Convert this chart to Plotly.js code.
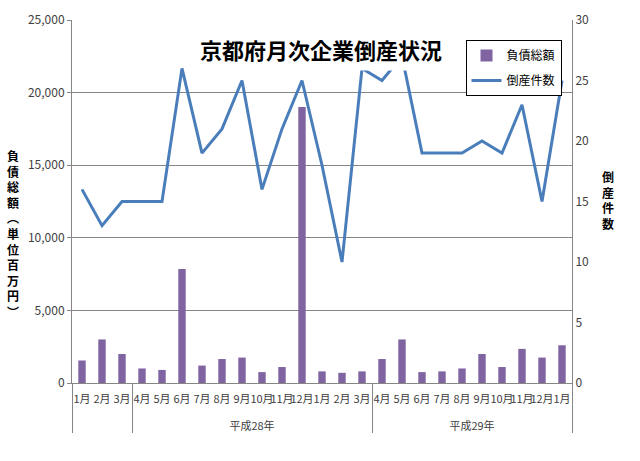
<!DOCTYPE html>
<html>
<head>
<meta charset="utf-8">
<script src="https://cdn.plot.ly/plotly-3.0.1.min.js"></script>
<style>
  html, body { margin: 0; padding: 0; background: #fff; }
  #chart { width: 640px; height: 461px; }
</style>
</head>
<body>
<div id="chart"></div>
<script>
const months = ["1月", "2月", "3月", "4月", "5月", "6月", "7月", "8月", "9月", "10月", "11月", "12月", "1月", "2月", "3月",
  "4月", "5月", "6月", "7月", "8月", "9月", "10月", "11月", "12月", "1月"];
const years = ["", "", "",
  "平成28年", "平成28年", "平成28年", "平成28年", "平成28年", "平成28年", "平成28年", "平成28年", "平成28年", "平成28年", "平成28年", "平成28年",
  "平成29年", "平成29年", "平成29年", "平成29年", "平成29年", "平成29年", "平成29年", "平成29年", "平成29年", "平成29年"];

// 負債総額 (百万円)
const debt = [1550, 3000, 2000, 1000, 900, 7850, 1200, 1650, 1750, 750, 1100, 19000, 800, 700, 800,
  1650, 3000, 750, 800, 1000, 2000, 1100, 2350, 1750, 2600];
// 倒産件数
const cases = [16, 13, 15, 15, 15, 26, 19, 21, 25, 16, 21, 25, 18, 10, 26,
  25, 27, 19, 19, 19, 20, 19, 23, 15, 25];

// multicategory orders inner labels by first appearance, so repeated
// month names get an invisible suffix to keep them in sequence
const seen = {};
const monthKeys = months.map((m) => {
  seen[m] = (seen[m] || 0) + 1;
  return m + "\u200b".repeat(seen[m] - 1);
});
// year labels sit one line lower, like the reference
const yearKeys = years.map((y) => (y ? "<br>" + y : y));

const font = "'Noto Sans CJK JP', 'Noto Sans', sans-serif";
const tickColor = "#404040";

const bars = {
  x: [yearKeys, monthKeys],
  y: debt,
  name: "負債総額",
  type: "bar",
  marker: { color: "#8064A2" },
  legendgroup: "a",
};

const line = {
  x: [yearKeys, monthKeys],
  y: cases,
  name: "倒産件数",
  type: "scatter",
  mode: "lines",
  yaxis: "y2",
  line: { color: "#4A7EBB", width: 3 },
  legendgroup: "b",
};

const vert = (s) => s.split("").join("<br>");

const layout = {
  width: 640,
  height: 461,
  margin: { l: 72, r: 68, t: 20, b: 78 },
  paper_bgcolor: "#fff",
  plot_bgcolor: "#fff",
  font: { family: font, size: 12, color: tickColor },
  bargap: 0.63,
  showlegend: true,
  legend: {
    x: 0.787,
    y: 0.945,
    xanchor: "left",
    yanchor: "top",
    bordercolor: "#000",
    borderwidth: 1,
    bgcolor: "#fff",
    font: { size: 12, color: "#000" },
    traceorder: "grouped",
    tracegroupgap: 6,
  },
  xaxis: {
    type: "multicategory",
    tickangle: 0,
    showline: true,
    linecolor: "#868686",
    ticks: "",
    showgrid: false,
    showdividers: true,
    dividercolor: "#868686",
    dividerwidth: 1,
    ticklabelstandoff: 6,
    tickfont: { size: 11, color: tickColor },
  },
  yaxis: {
    range: [0, 25000],
    dtick: 5000,
    tickformat: ",d",
    showline: true,
    linecolor: "#868686",
    ticks: "outside",
    ticklen: 4,
    tickcolor: "#868686",
    gridcolor: "#868686",
    zeroline: false,
    tickfont: { size: 12, color: tickColor },
  },
  yaxis2: {
    overlaying: "y",
    side: "right",
    range: [0, 30],
    dtick: 5,
    showline: true,
    linecolor: "#868686",
    showgrid: false,
    zeroline: false,
    ticks: "",
    tickfont: { size: 12, color: tickColor },
  },
  annotations: [
    {
      text: "<b>京都府月次企業倒産状況</b>",
      xref: "paper", yref: "paper",
      x: 0.498, y: 0.92,
      xanchor: "center", yanchor: "middle",
      showarrow: false,
      bgcolor: "#fff",
      height: 34,
      borderpad: 4,
      font: { size: 22, color: "#000", family: font },
    },
    {
      text: "<b>" + vert("負債総額︵単位百万円︶") + "</b>",
      xref: "paper", yref: "paper",
      x: (13 - 72) / 500, y: (383 - 233) / 363,
      xanchor: "center", yanchor: "middle",
      showarrow: false,
      font: { size: 12, color: "#000", family: font },
    },
    {
      text: "<b>" + vert("倒産件数") + "</b>",
      xref: "paper", yref: "paper",
      x: (608 - 72) / 500, y: (383 - 200) / 363,
      xanchor: "center", yanchor: "middle",
      showarrow: false,
      font: { size: 12, color: "#000", family: font },
    },
  ],
};

Plotly.newPlot("chart", [bars, line], layout, { displayModeBar: false, staticPlot: true });
</script>
</body>
</html>
